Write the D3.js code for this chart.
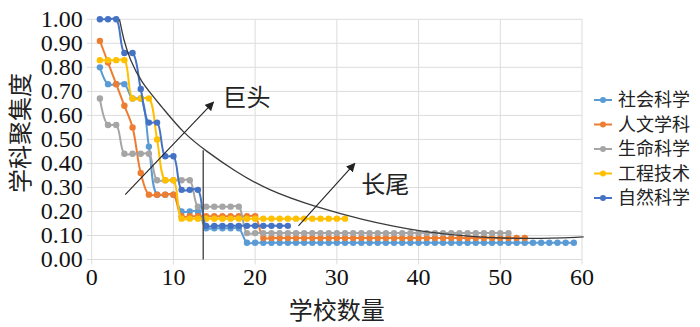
<!DOCTYPE html>
<html>
<head>
<meta charset="utf-8">
<script src="https://cdn.jsdelivr.net/npm/d3@7"></script>
<style>
  body { margin: 0; background: #fff; }
  svg { display: block; }
</style>
</head>
<body>
<div id="chart"></div>
<script>
// values, one entry per school (x = 1, 2, 3 ...)
const seriesNames = ["社会科学", "人文学科", "生命科学", "工程技术", "自然科学"]
const seriesColors = ["#5b9bd5", "#ed7d31", "#a5a5a5", "#ffc000", "#4472c4"]

const social = [0.80, 0.73, 0.73, 0.73, 0.67, 0.67, 0.47, 0.27, 0.27, 0.27,
  0.20, 0.20, 0.20, 0.13, 0.13, 0.13, 0.13, 0.13, 0.07, 0.07,
  0.07, 0.07, 0.07, 0.07, 0.07, 0.07, 0.07, 0.07, 0.07, 0.07,
  0.07, 0.07, 0.07, 0.07, 0.07, 0.07, 0.07, 0.07, 0.07, 0.07,
  0.07, 0.07, 0.07, 0.07, 0.07, 0.07, 0.07, 0.07, 0.07, 0.07,
  0.07, 0.07, 0.07, 0.07, 0.07, 0.07, 0.07, 0.07, 0.07]
const humanities = [0.91, 0.82, 0.73, 0.64, 0.55, 0.36, 0.27, 0.27, 0.27, 0.27,
  0.18, 0.18, 0.18, 0.18, 0.18, 0.18, 0.18, 0.18, 0.18, 0.18,
  0.09, 0.09, 0.09, 0.09, 0.09, 0.09, 0.09, 0.09, 0.09, 0.09,
  0.09, 0.09, 0.09, 0.09, 0.09, 0.09, 0.09, 0.09, 0.09, 0.09,
  0.09, 0.09, 0.09, 0.09, 0.09, 0.09, 0.09, 0.09, 0.09, 0.09,
  0.09, 0.09, 0.09]
const life = [0.67, 0.56, 0.56, 0.44, 0.44, 0.44, 0.44, 0.33, 0.33, 0.33,
  0.33, 0.33, 0.22, 0.22, 0.22, 0.22, 0.22, 0.22, 0.11, 0.11,
  0.11, 0.11, 0.11, 0.11, 0.11, 0.11, 0.11, 0.11, 0.11, 0.11,
  0.11, 0.11, 0.11, 0.11, 0.11, 0.11, 0.11, 0.11, 0.11, 0.11,
  0.11, 0.11, 0.11, 0.11, 0.11, 0.11, 0.11, 0.11, 0.11, 0.11,
  0.11]
const engineering = [0.83, 0.83, 0.83, 0.83, 0.67, 0.67, 0.67, 0.50, 0.33, 0.33,
  0.17, 0.17, 0.17, 0.17, 0.17, 0.17, 0.17, 0.17, 0.17, 0.17,
  0.17, 0.17, 0.17, 0.17, 0.17, 0.17, 0.17, 0.17, 0.17, 0.17,
  0.17]
const natural = [1.00, 1.00, 1.00, 0.86, 0.86, 0.71, 0.57, 0.57, 0.43, 0.43,
  0.29, 0.29, 0.29, 0.14, 0.14, 0.14, 0.14, 0.14, 0.14, 0.14,
  0.14, 0.14, 0.14, 0.14]

// the hand drawn long-tail curve
const trendX = [3.4, 3.9, 4.7, 6.0, 8.6, 11.2, 14.1, 17.3, 21.4, 27.5, 33.6, 37.0, 40.0, 46.8, 54.0, 60.2]
const trendY = [1.00, 0.915, 0.83, 0.74, 0.635, 0.526, 0.449, 0.373, 0.29, 0.217, 0.162, 0.138, 0.118, 0.092, 0.085, 0.094]

const xTicks = [0, 10, 20, 30, 40, 50, 60]
const yTicks = [0, 0.1, 0.2, 0.3, 0.4, 0.5, 0.6, 0.7, 0.8, 0.9, 1.0]

// annotations in data units
const cutX = 13.65
const cutTop = 0.455
const arrowFrom = [[4.1, 0.27], [25.3, 0.14]]
const arrowTo = [[14.9, 0.655], [32.2, 0.40]]
const noteText = ["巨头", "长尾"]
const notePos = [[16.0, 0.64], [33.0, 0.275]]

const numFont = "'Liberation Serif', 'DejaVu Serif', serif"
const cjkFont = "'Noto Sans CJK SC', sans-serif"

const width = 700, height = 327
const margin = {top: 19.3, right: 118, bottom: 67.5, left: 91.7}
const innerWidth = width - margin.left - margin.right
const innerHeight = height - margin.top - margin.bottom

const svg = d3.select("#chart").append("svg")
  .attr("width", width)
  .attr("height", height)

svg.append("defs").append("marker")
  .attr("id", "head")
  .attr("viewBox", "0 0 10 10")
  .attr("refX", 9).attr("refY", 5)
  .attr("markerWidth", 9).attr("markerHeight", 9)
  .attr("markerUnits", "userSpaceOnUse")
  .attr("orient", "auto")
  .append("path")
  .attr("d", "M0,0L10,5L0,10Z")
  .attr("fill", "#222")

const g = svg.append("g").attr("transform", "translate(" + margin.left + "," + margin.top + ")")

let x = d3.scaleLinear().domain([0, 60]).range([0, innerWidth])
let y = d3.scaleLinear().domain([0, 1]).range([innerHeight, 0])

// grid
g.append("g").selectAll("line").data(yTicks).enter().append("line")
  .attr("x1", -5).attr("x2", innerWidth)
  .attr("y1", d => y(d)).attr("y2", d => y(d))
  .attr("stroke", "#dcdcdc").attr("stroke-width", 1)
g.append("g").selectAll("line").data(xTicks).enter().append("line")
  .attr("x1", d => x(d)).attr("x2", d => x(d))
  .attr("y1", 0).attr("y2", innerHeight + 5)
  .attr("stroke", "#dcdcdc").attr("stroke-width", 1)

// tick labels, written by hand so the serif face sticks
const fmt = d3.format(".2f")
g.append("g").selectAll("text").data(yTicks).enter().append("text")
  .attr("x", -9)
  .attr("y", d => y(d))
  .attr("dy", "0.33em")
  .attr("text-anchor", "end")
  .style("font-family", numFont)
  .style("font-size", "24px")
  .attr("fill", "#111")
  .text(d => fmt(d))
g.append("g").selectAll("text").data(xTicks).enter().append("text")
  .attr("x", d => x(d))
  .attr("y", innerHeight + 8)
  .attr("dy", "0.72em")
  .attr("text-anchor", "middle")
  .style("font-family", numFont)
  .style("font-size", "24px")
  .attr("fill", "#111")
  .text(d => d)

svg.append("text")
  .attr("x", margin.left + innerWidth / 2)
  .attr("y", 319)
  .attr("text-anchor", "middle")
  .style("font-family", cjkFont)
  .style("font-size", "24px")
  .attr("fill", "#222")
  .text("学校数量")
svg.append("text")
  .attr("transform", "translate(29," + 133 + ") rotate(-90)")
  .attr("text-anchor", "middle")
  .style("font-family", cjkFont)
  .style("font-size", "24px")
  .attr("fill", "#222")
  .text("学科聚集度")

// series
const allSeries = [social, humanities, life, engineering, natural]
const line = d3.line()
  .x((d, i) => x(i + 1))
  .y(d => y(d))
  .curve(d3.curveCatmullRom.alpha(0.5))

allSeries.forEach(function(vals, k) {
  const sg = g.append("g")
  sg.append("path")
    .attr("d", line(vals))
    .attr("fill", "none")
    .attr("stroke", seriesColors[k])
    .attr("stroke-width", 2)
  sg.selectAll("circle").data(vals).enter().append("circle")
    .attr("cx", (d, i) => x(i + 1))
    .attr("cy", d => y(d))
    .attr("r", 3.2)
    .attr("fill", seriesColors[k])
})

// trend curve
const trend = trendX.map((d, i) => [d, trendY[i]])
g.append("path")
  .attr("d", d3.line().x(d => x(d[0])).y(d => y(d[1])).curve(d3.curveBasis)(trend))
  .attr("fill", "none")
  .attr("stroke", "#3a3a3a")
  .attr("stroke-width", 1.3)

// divider between head and tail
g.append("line")
  .attr("x1", x(cutX)).attr("x2", x(cutX))
  .attr("y1", y(cutTop)).attr("y2", y(0))
  .attr("stroke", "#555").attr("stroke-width", 1.5)

arrowFrom.forEach(function(p, i) {
  g.append("line")
    .attr("x1", x(p[0])).attr("y1", y(p[1]))
    .attr("x2", x(arrowTo[i][0])).attr("y2", y(arrowTo[i][1]))
    .attr("stroke", "#222").attr("stroke-width", 1.1)
    .attr("marker-end", "url(#head)")
  g.append("text")
    .attr("x", x(notePos[i][0])).attr("y", y(notePos[i][1]))
    .style("font-family", cjkFont)
    .style("font-size", "24px")
    .attr("fill", "#222")
    .text(noteText[i])
})

// legend
const legend = svg.append("g").attr("transform", "translate(594,100)")
seriesNames.forEach(function(name, i) {
  const row = legend.append("g").attr("transform", "translate(0," + (i * 24.5) + ")")
  row.append("line").attr("x1", 0).attr("x2", 18).attr("y1", 0).attr("y2", 0)
    .attr("stroke", seriesColors[i]).attr("stroke-width", 2)
  row.append("circle").attr("cx", 9).attr("cy", 0).attr("r", 3).attr("fill", seriesColors[i])
  row.append("text").attr("x", 24).attr("y", 0).attr("dy", "0.35em")
    .style("font-family", cjkFont)
    .style("font-size", "18px")
    .attr("fill", "#222")
    .text(name)
})
</script>
</body>
</html>
